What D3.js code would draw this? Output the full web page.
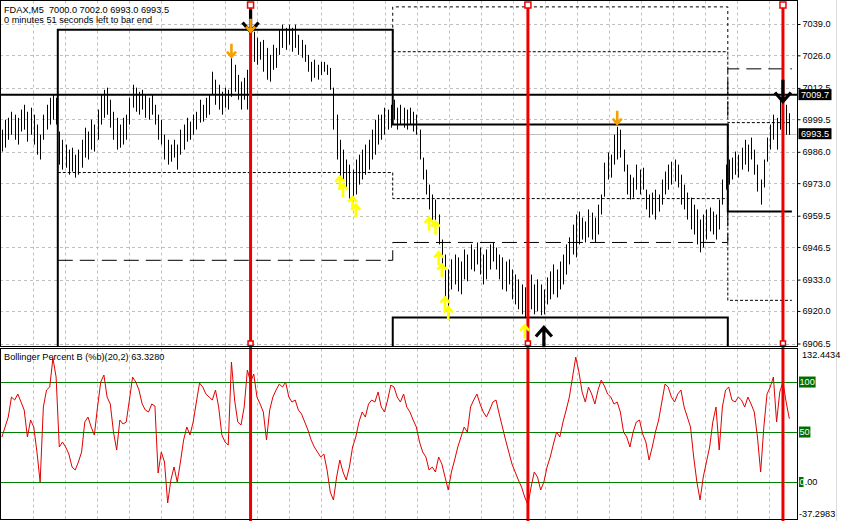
<!DOCTYPE html>
<html><head><meta charset="utf-8">
<script src="https://cdn.jsdelivr.net/npm/d3@7"></script>
<style>
html,body{margin:0;padding:0;background:#fff;}
svg{display:block;}
text{font-family:"Liberation Sans",Arial,sans-serif;font-size:9.2px;}
</style></head><body>
<svg id="c" width="842" height="521"></svg>
<script>
// ---------------- data ----------------
const symbolText = "FDAX,M5";
const lastOHLC = ["7000.0", "7002.0", "6993.0", "6993.5"];
const timerText = "0 minutes 51 seconds left to bar end";
const indicatorTitle = "Bollinger Percent B (%b)(20,2) 63.3280";

const highs = [
6995.2, 6999.3, 7000.1, 7002.6, 7001.4, 7000.1, 7003.5, 7005.5, 7002.6, 7004.3,
7001.4, 6997.3, 6993.1, 7001.4, 7005.5, 7008.4, 7009.7, 7008.4, 6994.4, 6991.0,
6989.0, 6986.9, 6987.7, 6984.8, 6986.9, 6991.0, 6996.0, 6994.4, 6999.3, 6997.3,
7003.5, 7009.7, 7011.7, 7012.6, 7007.6, 7002.6, 7000.1, 6997.3, 7000.1, 7001.4,
7008.4, 7013.8, 7012.6, 7010.9, 7011.7, 7009.7, 7008.4, 7009.7, 7005.5, 7001.4,
6999.3, 6993.1, 6991.0, 6989.0, 6991.0, 6989.0, 6995.2, 6997.3, 7000.1, 6998.5,
7001.4, 7002.6, 7007.6, 7005.5, 7008.4, 7009.7, 7019.2, 7015.9, 7013.8, 7010.9,
7012.6, 7011.7, 7025.0, 7022.1, 7017.9, 7015.1, 7016.7, 7020.0, 7034.5, 7035.8,
7033.3, 7031.6, 7032.4, 7029.1, 7026.2, 7030.4, 7029.1, 7036.6, 7038.7, 7037.4,
7038.7, 7037.4, 7038.7, 7034.5, 7032.4, 7030.4, 7026.2, 7023.3, 7024.2, 7022.1,
7023.3, 7023.3, 7022.1, 7020.8, 7012.6, 7001.4, 6991.0, 6986.9, 6982.8, 6980.7,
6978.6, 6982.8, 6984.8, 6986.9, 6989.0, 6991.0, 6995.2, 6999.3, 7001.4, 7001.4,
7004.3, 7003.5, 7005.5, 7007.6, 7004.3, 7005.5, 7004.3, 7003.5, 7004.3, 7002.6,
7001.4, 6995.2, 6983.6, 6978.6, 6972.4, 6968.3, 6966.2, 6960.0, 6949.6, 6943.4,
6937.2, 6941.4, 6943.4, 6942.2, 6940.5, 6945.5, 6943.4, 6947.6, 6945.5, 6948.4,
6946.3, 6943.4, 6945.5, 6947.6, 6948.4, 6946.3, 6943.4, 6942.2, 6940.5, 6941.4,
6937.2, 6935.1, 6933.1, 6931.0, 6929.8, 6937.2, 6935.1, 6931.0, 6933.1, 6931.0,
6928.9, 6933.9, 6936.4, 6939.3, 6937.2, 6940.5, 6943.4, 6947.6, 6950.5, 6955.8,
6960.0, 6961.2, 6958.7, 6957.1, 6962.1, 6960.8, 6958.7, 6964.1, 6968.3, 6981.5,
6985.7, 6984.8, 6993.1, 6996.4, 6995.2, 6986.9, 6980.7, 6976.5, 6975.3, 6980.7,
6978.6, 6979.4, 6970.3, 6968.3, 6969.1, 6970.3, 6968.3, 6974.5, 6977.8, 6980.7,
6981.9, 6982.8, 6980.7, 6976.5, 6972.4, 6969.1, 6967.0, 6964.1, 6962.1, 6957.9,
6960.0, 6962.1, 6962.9, 6961.2, 6960.0, 6966.2, 6974.5, 6980.7, 6982.8, 6983.6,
6986.1, 6984.8, 6987.7, 6991.0, 6989.0, 6991.9, 6986.9, 6980.7, 6974.5, 6982.8,
6991.9, 6997.3, 7001.4, 7000.1, 7007.6, 7008.8, 7005.5, 7002.0
];
const lows = [
6986.1, 6987.7, 6991.0, 6993.1, 6991.0, 6989.0, 6994.4, 6995.2, 6990.2, 6993.1,
6989.0, 6984.8, 6982.8, 6991.0, 6995.2, 6997.3, 6999.3, 6997.3, 6980.7, 6978.6,
6979.4, 6976.5, 6977.8, 6975.3, 6976.5, 6979.4, 6983.6, 6982.8, 6986.9, 6986.1,
6991.0, 6997.3, 7000.1, 7001.4, 6996.0, 6991.0, 6986.9, 6987.7, 6989.0, 6991.0,
6997.3, 7004.3, 7002.6, 7001.4, 7003.5, 7000.1, 6999.3, 7001.4, 6997.3, 6991.0,
6989.0, 6982.8, 6980.7, 6981.9, 6983.6, 6978.6, 6984.8, 6986.9, 6990.2, 6991.0,
6993.1, 6995.2, 6998.1, 6998.5, 7000.1, 7001.4, 7009.7, 7005.5, 7003.5, 7001.4,
7004.3, 7003.5, 7008.8, 7010.9, 7007.6, 7003.5, 7007.6, 7003.5, 7017.9, 7023.3,
7022.1, 7024.2, 7019.2, 7015.9, 7015.1, 7020.0, 7020.8, 7026.2, 7029.1, 7028.3,
7030.4, 7027.5, 7029.1, 7026.2, 7025.0, 7023.3, 7019.2, 7015.1, 7016.7, 7015.9,
7017.9, 7019.2, 7017.9, 7011.7, 6995.2, 6982.8, 6975.3, 6974.5, 6970.3, 6966.2,
6965.0, 6968.3, 6972.4, 6974.5, 6976.5, 6978.6, 6982.8, 6984.8, 6989.0, 6991.0,
6993.1, 6995.2, 6996.0, 6999.3, 6995.2, 6997.3, 6996.0, 6995.2, 6997.3, 6994.4,
6993.1, 6982.8, 6974.5, 6968.3, 6962.1, 6957.1, 6955.8, 6947.6, 6935.1, 6925.6,
6920.7, 6928.9, 6931.0, 6928.1, 6926.9, 6933.1, 6932.3, 6937.2, 6936.4, 6939.3,
6935.1, 6931.0, 6933.1, 6937.2, 6940.5, 6937.2, 6933.1, 6928.9, 6928.1, 6931.0,
6924.8, 6922.7, 6920.7, 6918.6, 6917.3, 6919.8, 6920.7, 6918.6, 6919.8, 6918.2,
6918.6, 6922.7, 6924.8, 6926.9, 6925.6, 6928.9, 6931.0, 6935.1, 6939.3, 6943.4,
6942.2, 6947.6, 6949.6, 6948.4, 6950.5, 6949.6, 6948.4, 6951.7, 6960.0, 6967.4,
6974.5, 6975.3, 6980.7, 6982.8, 6983.6, 6977.8, 6968.3, 6966.2, 6967.0, 6970.3,
6968.3, 6970.3, 6962.1, 6958.7, 6960.0, 6957.9, 6961.2, 6964.1, 6968.3, 6970.3,
6972.4, 6973.7, 6971.2, 6964.1, 6962.1, 6957.9, 6953.8, 6951.7, 6947.6, 6944.3,
6946.3, 6949.6, 6953.0, 6951.7, 6949.6, 6953.8, 6964.1, 6970.3, 6972.4, 6974.5,
6976.5, 6975.3, 6978.6, 6980.7, 6977.8, 6982.8, 6976.5, 6969.5, 6964.1, 6971.2,
6981.9, 6986.9, 6991.0, 6986.9, 6995.2, 6996.0, 6993.1, 6993.0
];
const pctB = [
45, 55, 65, 85, 82, 88, 80, 72, 45, 62,
55, 30, 0, 75, 92, 95, 124, 105, 35, 40,
35, 28, 15, 12, 20, 30, 60, 65, 55, 47,
75, 100, 107, 85, 78, 50, 32, 62, 58, 60,
82, 105, 100, 92, 78, 72, 70, 78, 76, 9,
30, 20, -21, 2, 15, 0, 20, 42, 55, 47,
60, 80, 99, 95, 88, 85, 82, 92, 75, 47,
40, 37, 120, 82, 60, 57, 75, 112, 100, 108,
85, 78, 70, 42, 72, 85, 92, 98, 95, 100,
85, 80, 82, 72, 68, 60, 52, 42, 35, 30,
25, 28, 12, -10, -18, 5, 22, 10, 2, 15,
35, 45, 60, 70, 65, 78, 82, 80, 90, 75,
70, 82, 97, 95, 85, 80, 88, 75, 70, 62,
55, 40, 30, 25, 12, 15, 10, 25, 18, 5,
-8, 10, 22, 35, 45, 55, 50, 75, 82, 88,
78, 70, 65, 72, 80, 82, 68, 55, 42, 30,
18, 10, 2, -5, -15, -23, -5, 10, 5, -8,
0, 15, 25, 38, 50, 45, 60, 72, 85, 105,
125, 110, 90, 80, 95, 88, 78, 92, 102, 96,
88, 85, 78, 80, 70, 50, 45, 35, 50, 60,
62, 48, 40, 22, 35, 50, 62, 80, 98, 95,
85, 80, 88, 92, 75, 65, 55, 25, 0, -18,
5, 20, 35, 60, 75, 32, 75, 92, 95, 82,
80, 85, 82, 75, 85, 78, 70, 45, 10, 55,
88, 95, 105, 60, 90, 100, 80, 63.328
];

const priceTicks = [7039.0, 7026.0, 7012.5, 6999.5, 6986.0, 6973.0, 6959.5, 6946.5, 6933.0, 6920.0, 6906.5];
const priceDomain = [6906.5, 7039.0];
const indDomain = [-37.2983, 132.4434];
const indLevels = [100, 50, 0];
const indLevelLabels = ["100", "50", "0.00"];
const hLinePrice = 7009.7;
const bidPrice = 6993.5;
const signalBars = [78, 165, 245];

// day-level step lines: [bar index, price]
const levelHigh = [[17.53, 6890], [17.53, 7036.6], [122.6, 7036.6], [122.6, 6997.3], [227.7, 6997.3], [227.7, 6961.2], [247.8, 6961.2]];
const levelLow = [[122.6, 6890], [122.6, 6917.3], [227.7, 6917.3], [227.7, 6890]];
const levelDotLow = [[17.53, 6977.4], [122.6, 6977.4], [122.6, 6966.6], [227.7, 6966.6], [227.7, 6924.4], [247.8, 6924.4]];
const levelLongDash = [[17.53, 6941.0], [122.6, 6941.0], [122.6, 6948.4], [227.7, 6948.4], [227.7, 7020.4], [247.8, 7020.4]];
const levelDotHigh = [[122.6, 7027.5], [227.7, 7027.5], [227.7, 6998.1], [247.8, 6998.1]];
const levelDashTop = [[122.6, 7027.5], [122.6, 7046.1], [227.7, 7046.1], [227.7, 7027.5]];

// signal arrows: [bar index, price of arrow tip]
const blackDown = [[78, 7035.8], [245, 7006.8]];
const blackUp = [[170, 6913.2]];
const orangeDown = [[72, 7025.4], [78, 7035.8], [193, 6997.6]];
const yellowUp = [[106, 6975.7], [107, 6972.4], [110, 6967.4], [111, 6964.1], [134, 6958.7], [136, 6957.1], [137, 6944.3], [138, 6939.3], [139, 6925.6], [140, 6921.5], [164, 6914.0]];

// ---------------- layout ----------------
const W = 842, H = 521;
const paneR = 797.5;
const pTop = 0.5, pBot = 346.5;
const iTop = 348.5, iBot = 519.5;

const svg = d3.select("#c");
svg.append("rect").attr("width", W).attr("height", H).attr("fill", "#fff");

const x = d3.scaleLinear().domain([0, 247]).range([1.9, 1.9 + 3.188 * 247]);
const yP = d3.scaleLinear().domain(priceDomain).range([343.5, 24]);
const yI = d3.scaleLinear().domain(indDomain).range([519.3, 349.6]);
const crisp = v => Math.round(v) + 0.5;

const defs = svg.append("defs");
defs.append("clipPath").attr("id", "clipP").append("rect").attr("x", 0).attr("y", pTop).attr("width", paneR).attr("height", pBot - pTop);
defs.append("clipPath").attr("id", "clipI").append("rect").attr("x", 0).attr("y", iTop).attr("width", paneR).attr("height", iBot - iTop);

// grid
const gridColor = "#c0c0c0";
const gridXs = d3.range(33.3, paneR, 32);
const grid = svg.append("g").attr("stroke", gridColor).attr("stroke-dasharray", "3,3").attr("stroke-width", 1);
grid.selectAll("line.gv").data(gridXs).join("line")
  .attr("x1", d => crisp(d)).attr("x2", d => crisp(d)).attr("y1", pTop).attr("y2", pBot);
grid.selectAll("line.gvi").data(gridXs).join("line")
  .attr("x1", d => crisp(d)).attr("x2", d => crisp(d)).attr("y1", iTop).attr("y2", iBot);
grid.selectAll("line.gh").data(priceTicks).join("line")
  .attr("x1", 0).attr("x2", paneR).attr("y1", d => crisp(yP(d))).attr("y2", d => crisp(yP(d)));

// header text
svg.append("text").attr("x", 4).attr("y", 12.5).attr("xml:space", "preserve")
  .text(symbolText + "  " + lastOHLC.join(" "));
svg.append("text").attr("x", 4).attr("y", 22.5).text(timerText);

// price pane content
const pg = svg.append("g").attr("clip-path", "url(#clipP)");
pg.append("line").attr("x1", 0).attr("x2", paneR)
  .attr("y1", crisp(yP(bidPrice))).attr("y2", crisp(yP(bidPrice))).attr("stroke", "#c0c0c0");

const lineGen = d3.line().x(d => x(d[0])).y(d => yP(d[1]));
const levelStyles = [
  [levelDashTop, 1, "3,3"],
  [levelDotHigh, 1, "3,2"],
  [levelDotLow, 1, "3,2"],
  [levelLongDash, 1, "15,7"],
  [levelHigh, 2, null],
  [levelLow, 2, null]
];
levelStyles.forEach(([pts, w, dash]) => {
  pg.append("path").datum(pts).attr("d", lineGen).attr("fill", "none")
    .attr("stroke", "#000").attr("stroke-width", w)
    .attr("stroke-dasharray", dash);
});
pg.append("line").attr("x1", 0).attr("x2", paneR)
  .attr("y1", yP(hLinePrice)).attr("y2", yP(hLinePrice)).attr("stroke", "#000").attr("stroke-width", 2);

// bars
pg.selectAll("line.bar").data(highs).join("line").attr("class", "bar")
  .attr("x1", (d, i) => crisp(x(i))).attr("x2", (d, i) => crisp(x(i)))
  .attr("y1", d => yP(d)).attr("y2", (d, i) => Math.max(yP(lows[i]), yP(d) + 1))
  .attr("stroke", "#000").attr("stroke-width", 1);

// indicator pane
const ig = svg.append("g").attr("clip-path", "url(#clipI)");
ig.selectAll("line.lvl").data(indLevels).join("line")
  .attr("x1", 0).attr("x2", paneR)
  .attr("y1", d => crisp(yI(d))).attr("y2", d => crisp(yI(d)))
  .attr("stroke", "#008000").attr("stroke-width", 1);
ig.append("path").datum(pctB)
  .attr("d", d3.line().x((d, i) => x(i)).y(d => yI(d)))
  .attr("fill", "none").attr("stroke", "#e00000").attr("stroke-width", 1);

svg.append("text").attr("x", 4).attr("y", 360).text(indicatorTitle);

// signal vertical lines
const sig = svg.append("g");
signalBars.forEach(i => {
  const xx = x(i);
  sig.append("line").attr("x1", xx).attr("x2", xx).attr("y1", 5).attr("y2", H)
    .attr("stroke", "#ee0000").attr("stroke-width", 3);
  sig.append("rect").attr("x", xx - 3).attr("y", 2).attr("width", 6).attr("height", 6)
    .attr("fill", "#fff").attr("stroke", "#ee0000").attr("stroke-width", 1.5);
  sig.append("rect").attr("x", xx - 2.5).attr("y", 341).attr("width", 5).attr("height", 4.5)
    .attr("fill", "#fff").attr("stroke", "#ee0000").attr("stroke-width", 1.5);
});

// arrows
function downArrow(w, h) { return `M0,${-h}L0,0M${-w},${-w * 1.15}L0,0L${w},${-w * 1.15}`; }
function upArrow(w, h) { return `M0,${h}L0,0M${-w},${w * 1.15}L0,0L${w},${w * 1.15}`; }
const ag = svg.append("g").attr("fill", "none").attr("stroke-linecap", "butt");
ag.selectAll("path.bd").data(blackDown).join("path")
  .attr("transform", d => `translate(${x(d[0])},${yP(d[1])})`)
  .attr("d", downArrow(8, 22)).attr("stroke", "#000").attr("stroke-width", 3.2);
ag.selectAll("path.bu").data(blackUp).join("path")
  .attr("transform", d => `translate(${x(d[0])},${yP(d[1])})`)
  .attr("d", upArrow(8, 20)).attr("stroke", "#000").attr("stroke-width", 3.2);
ag.selectAll("path.od").data(orangeDown).join("path")
  .attr("transform", d => `translate(${x(d[0])},${yP(d[1])})`)
  .attr("d", downArrow(4.5, 13)).attr("stroke", "#f5a000").attr("stroke-width", 2.6);
ag.selectAll("path.yu").data(yellowUp).join("path")
  .attr("transform", d => `translate(${x(d[0])},${yP(d[1])})`)
  .attr("d", upArrow(4.5, 13)).attr("stroke", "#ffff00").attr("stroke-width", 2.6);

// pane borders
svg.append("rect").attr("x", 0.5).attr("y", pTop).attr("width", paneR - 0.5).attr("height", pBot - pTop)
  .attr("fill", "none").attr("stroke", "#000");
svg.append("rect").attr("x", 0.5).attr("y", iTop).attr("width", paneR - 0.5).attr("height", iBot - iTop)
  .attr("fill", "none").attr("stroke", "#000");
svg.append("line").attr("x1", 836.5).attr("x2", 836.5).attr("y1", 0).attr("y2", H).attr("stroke", "#dcdcdc");

// price axis
const ax = svg.append("g").attr("transform", `translate(${paneR},0)`)
  .call(d3.axisRight(yP).tickValues(priceTicks).tickFormat(d3.format(".1f")).tickSize(3).tickPadding(2));
ax.select(".domain").remove();
ax.selectAll("text").attr("fill", "#000").style("font-family", "Liberation Sans, Arial, sans-serif").style("font-size", "9.2px");
ax.selectAll("line").attr("stroke", "#000");

// price labels with black boxes
[hLinePrice, bidPrice].forEach(p => {
  const yy = yP(p);
  svg.append("rect").attr("x", 798.5).attr("y", yy - 5.5).attr("width", 33).attr("height", 11).attr("fill", "#000");
  svg.append("text").attr("x", 801).attr("y", yy + 3.3).attr("fill", "#fff").text(d3.format(".1f")(p));
});

// indicator axis labels
svg.append("text").attr("x", 802).attr("y", 357.5).text(indDomain[1].toFixed(4));
svg.append("text").attr("x", 799).attr("y", 516.5).text(indDomain[0].toFixed(4));
indLevels.forEach((lv, k) => {
  const yy = yI(lv);
  const lbl = indLevelLabels[k];
  if (lv === 0) {
    svg.append("rect").attr("x", 799).attr("y", yy - 5).attr("width", 4.5).attr("height", 10).attr("fill", "#006e00");
    const t = svg.append("text").attr("x", 799.5).attr("y", yy + 3.3);
    t.append("tspan").attr("fill", "#fff").text(lbl.slice(0, 1));
    t.append("tspan").attr("fill", "#000").text(lbl.slice(1));
  } else {
    const wbox = lbl.length * 5.2 + 1;
    svg.append("rect").attr("x", 799).attr("y", yy - 5.5).attr("width", wbox).attr("height", 11).attr("fill", "#006e00");
    svg.append("text").attr("x", 799.5).attr("y", yy + 3.3).attr("fill", "#fff").text(lbl);
  }
});
</script>
</body></html>
